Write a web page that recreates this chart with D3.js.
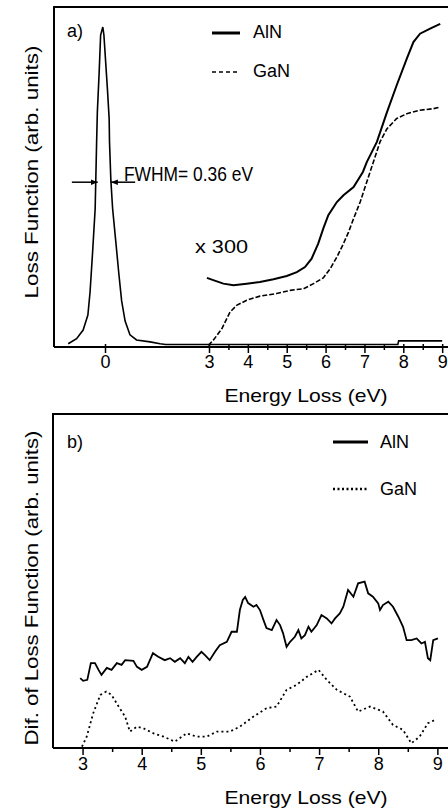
<!DOCTYPE html>
<html><head><meta charset="utf-8">
<script src="https://cdn.jsdelivr.net/npm/d3@7"></script>
<style>
body{margin:0;background:#fff}
svg{display:block}
text{font-family:"Liberation Sans",Arial,Helvetica,sans-serif;fill:#000}
</style>
</head><body>
<svg id="c" width="448" height="810"></svg>
<script>
// ---------- DATA (energy in eV, intensity in arb. units) ----------
// Panel a: zero-loss peak
const peakE = [-1.01,-0.78,-0.60,-0.47,-0.41,-0.34,-0.27,-0.23,-0.21,-0.16,-0.12,-0.06,-0.03,0.07,0.12,0.13,0.17,0.22,0.31,0.40,0.48,0.58,0.72,0.91,1.30,1.59,1.75,7.86,7.88,9.0];
const peakL = [1.0,2.6,5.3,10.0,17.2,29.7,43.2,64.1,73.4,85.9,97.5,100,97.5,80.6,71.3,64.1,51.9,43.2,33.1,22.8,14.4,8.1,3.8,2.2,1.6,1.0,0.8,0.8,1.9,1.9];
// Panel a: AlN (x300)
const alnAE = [2.94,3.11,3.37,3.63,3.97,4.31,4.66,5.00,5.26,5.47,5.64,5.81,5.94,6.07,6.29,6.46,6.72,6.96,7.06,7.32,7.58,7.83,8.09,8.26,8.43,8.69,8.95];
const alnAL = [21.6,20.9,19.8,19.3,19.8,20.3,21.2,22.2,23.4,25.0,27.6,32.3,37.0,41.2,45.3,47.4,50.0,54.7,57.8,64.1,73.4,81.8,90.1,95.3,97.9,99.5,101.0];
// Panel a: GaN (x300)
const ganAE = [2.98,3.11,3.33,3.54,3.71,3.97,4.31,4.74,5.09,5.43,5.69,5.94,6.12,6.29,6.46,6.59,6.72,6.89,7.06,7.23,7.40,7.58,7.83,8.09,8.43,8.78,8.95];
const ganAL = [0.5,2.1,5.7,10.9,13.0,14.6,15.9,16.7,17.7,18.2,19.8,21.6,24.5,28.1,32.3,35.9,40.1,45.3,51.6,57.8,64.1,68.2,71.4,72.9,74.0,74.5,75.0];
// Panel b: difference of loss function, AlN
const alnBE = [2.96,3.01,3.08,3.14,3.21,3.27,3.32,3.41,3.49,3.58,3.66,3.72,3.86,3.92,4.00,4.09,4.19,4.28,4.39,4.48,4.56,4.65,4.73,4.79,4.86,4.93,5.01,5.07,5.15,5.24,5.32,5.44,5.52,5.61,5.66,5.71,5.75,5.80,5.89,5.94,6.00,6.06,6.11,6.20,6.28,6.34,6.39,6.45,6.51,6.59,6.65,6.70,6.76,6.82,6.87,6.96,7.04,7.13,7.21,7.27,7.35,7.41,7.49,7.58,7.66,7.77,7.83,7.91,8.00,8.03,8.08,8.17,8.25,8.34,8.42,8.48,8.56,8.65,8.73,8.79,8.84,8.88,8.93,9.01];
const alnBD = [20.9,20.1,20.4,25.4,25.4,23.4,21.9,24.0,23.4,25.4,24.9,26.3,26.1,24.3,23.4,24.3,28.4,27.3,26.3,26.9,25.8,26.9,25.4,27.3,25.8,27.3,28.8,27.8,26.3,28.8,30.8,31.8,34.8,34.8,41.3,44.3,45.2,43.4,42.3,42.8,41.3,38.3,35.9,35.3,38.3,36.8,34.4,30.3,31.8,33.3,35.3,32.8,33.8,36.3,34.8,36.8,39.8,38.8,37.3,38.8,40.3,42.3,47.3,45.3,49.3,49.8,46.3,45.3,43.3,41.3,42.8,43.8,42.3,39.3,36.3,32.3,32.3,32.8,31.3,31.8,26.9,26.3,32.3,32.8];
// Panel b: GaN
const ganBE = [2.99,3.07,3.18,3.30,3.40,3.49,3.61,3.72,3.80,3.92,4.03,4.20,4.37,4.56,4.76,4.93,5.10,5.27,5.49,5.66,5.89,6.11,6.28,6.45,6.62,6.79,6.99,7.13,7.30,7.52,7.66,7.86,8.08,8.25,8.42,8.56,8.70,8.84,8.96];
const ganBD = [0.4,3.4,10.4,15.9,16.9,15.9,12.4,9.4,4.9,6.4,5.9,4.4,3.4,1.9,4.4,3.4,3.4,4.9,4.9,6.4,9.4,11.9,12.4,17.4,18.9,21.3,23.4,20.4,17.4,15.4,10.9,12.4,10.9,6.9,5.4,1.4,3.4,7.4,8.4];
// Ticks
const majorTicksA = [0,3,4,5,6,7,8,9];
const minorTicksA = [3.5,4.5,5.5,6.5,7.5,8.5];
const majorTicksB = [3,4,5,6,7,8,9];
const minorTicksB = [3.5,4.5,5.5,6.5,7.5,8.5];
// FWHM markers (eV) : [tail, tip]
const fwhmLeft = [-0.91,-0.20];
const fwhmRight = [0.87,0.17];
const fwhmLevel = 51.5;
const seriesNames = ["AlN","GaN"];

// ---------- DRAWING ----------
const svg = d3.select("#c");
const font = '"Liberation Sans",Arial,Helvetica,sans-serif';

svg.append("defs").append("marker")
  .attr("id","arrow").attr("viewBox","0 0 10 10").attr("refX",10).attr("refY",5)
  .attr("markerWidth",7).attr("markerHeight",7).attr("markerUnits","userSpaceOnUse")
  .attr("orient","auto")
  .append("path").attr("d","M0,1L10,5L0,9Z").attr("fill","#000");

const zip = (xs, ys) => xs.map((x,i)=>[x, ys[i]]);

// ===== Panel a =====
const xA = d3.scaleLinear().domain([-1.4,0,3,9.15]).range([54,105,209,448]);
const yA = d3.scaleLinear().domain([0,100]).range([347,27]);
const gA = svg.append("g");
const topA = 7;

gA.append("path").attr("d",`M${xA.range()[0]},${yA(0)}V${topA}H448`)
  .attr("fill","none").attr("stroke","#000").attr("stroke-width",2);
gA.append("line").attr("x1",xA.range()[0]).attr("x2",448).attr("y1",yA(0)).attr("y2",yA(0))
  .attr("stroke","#000").attr("stroke-width",2);

const axA = gA.append("g").attr("transform",`translate(0,${yA(0)})`)
  .call(d3.axisBottom(xA).tickValues(majorTicksA).tickFormat(d3.format("d")).tickSizeInner(6).tickSizeOuter(0).tickPadding(2));
axA.select(".domain").remove();
axA.selectAll(".tick line").attr("stroke","#000").attr("stroke-width",1.5).attr("y1",-3);
axA.selectAll(".tick text").attr("font-size",18).attr("font-family",font);
const axAm = gA.append("g").attr("transform",`translate(0,${yA(0)+3})`)
  .call(d3.axisBottom(xA).tickValues(minorTicksA).tickFormat("").tickSizeInner(-6).tickSizeOuter(0));
axAm.select(".domain").remove();
axAm.selectAll(".tick line").attr("stroke","#000").attr("stroke-width",1.5);

const lineA = d3.line().x(d=>xA(d[0])).y(d=>yA(d[1]));
gA.append("path").datum(zip(peakE,peakL)).attr("d",lineA)
  .attr("fill","none").attr("stroke","#000").attr("stroke-width",1.6);
gA.append("path").datum(zip(alnAE,alnAL)).attr("d",lineA)
  .attr("fill","none").attr("stroke","#000").attr("stroke-width",2);
gA.append("path").datum(zip(ganAE,ganAL)).attr("d",lineA)
  .attr("fill","none").attr("stroke","#000").attr("stroke-width",1.6).attr("stroke-dasharray","5,2");

[fwhmLeft, fwhmRight].forEach(a=>{
  gA.append("line").attr("x1",xA(a[0])).attr("x2",xA(a[1]))
    .attr("y1",yA(fwhmLevel)).attr("y2",yA(fwhmLevel))
    .attr("stroke","#000").attr("stroke-width",1.5).attr("marker-end","url(#arrow)");
});
gA.append("text").attr("x",124).attr("y",yA(fwhmLevel)-1).attr("font-size",21)
  .attr("textLength",129).attr("lengthAdjust","spacingAndGlyphs").text("FWHM= 0.36 eV");
gA.append("text").attr("x",195).attr("y",253).attr("font-size",18)
  .attr("textLength",53).attr("lengthAdjust","spacingAndGlyphs").text("x 300");
gA.append("text").attr("x",67).attr("y",37).attr("font-size",18).text("a)");

gA.append("line").attr("x1",212).attr("x2",240).attr("y1",33).attr("y2",33)
  .attr("stroke","#000").attr("stroke-width",3);
gA.append("line").attr("x1",212).attr("x2",240).attr("y1",72).attr("y2",72)
  .attr("stroke","#000").attr("stroke-width",1.6).attr("stroke-dasharray","4,3");
gA.append("text").attr("x",253).attr("y",38).attr("font-size",18).text(seriesNames[0]);
gA.append("text").attr("x",253).attr("y",77).attr("font-size",18).text(seriesNames[1]);

gA.append("text").attr("x",306).attr("y",402).attr("font-size",19).attr("text-anchor","middle")
  .attr("textLength",163).attr("lengthAdjust","spacingAndGlyphs").text("Energy Loss (eV)");
gA.append("text").attr("transform","translate(38,172) rotate(-90)").attr("font-size",19)
  .attr("text-anchor","middle").attr("textLength",253).attr("lengthAdjust","spacingAndGlyphs")
  .text("Loss Function (arb. units)");

// ===== Panel b =====
const xB = d3.scaleLinear().domain([2.5,9.18]).range([53,448]);
const yB = d3.scaleLinear().domain([0,100]).range([748,414]);
const gB = svg.append("g");
gB.append("path").attr("d",`M${xB.range()[0]},${yB(0)}V${yB(100)}H448`)
  .attr("fill","none").attr("stroke","#000").attr("stroke-width",2);
gB.append("line").attr("x1",xB.range()[0]).attr("x2",448).attr("y1",yB(0)).attr("y2",yB(0))
  .attr("stroke","#000").attr("stroke-width",2);
const axB = gB.append("g").attr("transform",`translate(0,${yB(0)})`)
  .call(d3.axisBottom(xB).tickValues(majorTicksB).tickFormat(d3.format("d")).tickSizeInner(7).tickSizeOuter(0).tickPadding(2));
axB.select(".domain").remove();
axB.selectAll(".tick line").attr("stroke","#000").attr("stroke-width",1.5);
axB.selectAll(".tick text").attr("font-size",18).attr("font-family",font);
const axBm = gB.append("g").attr("transform",`translate(0,${yB(0)})`)
  .call(d3.axisBottom(xB).tickValues(minorTicksB).tickFormat("").tickSizeInner(4).tickSizeOuter(0));
axBm.select(".domain").remove();
axBm.selectAll(".tick line").attr("stroke","#000").attr("stroke-width",1.5);

const lineB = d3.line().x(d=>xB(d[0])).y(d=>yB(d[1]));
gB.append("path").datum(zip(alnBE,alnBD)).attr("d",lineB)
  .attr("fill","none").attr("stroke","#000").attr("stroke-width",1.8);
gB.append("path").datum(zip(ganBE,ganBD)).attr("d",lineB)
  .attr("fill","none").attr("stroke","#000").attr("stroke-width",1.8).attr("stroke-dasharray","2,3");

gB.append("text").attr("x",67).attr("y",448).attr("font-size",18).text("b)");
gB.append("line").attr("x1",333).attr("x2",368).attr("y1",442).attr("y2",442)
  .attr("stroke","#000").attr("stroke-width",3);
gB.append("line").attr("x1",333).attr("x2",368).attr("y1",489).attr("y2",489)
  .attr("stroke","#000").attr("stroke-width",2.5).attr("stroke-dasharray","2,2.5");
gB.append("text").attr("x",380).attr("y",448).attr("font-size",18).text(seriesNames[0]);
gB.append("text").attr("x",380).attr("y",495).attr("font-size",18).text(seriesNames[1]);

gB.append("text").attr("x",306).attr("y",804).attr("font-size",19).attr("text-anchor","middle")
  .attr("textLength",163).attr("lengthAdjust","spacingAndGlyphs").text("Energy Loss (eV)");
gB.append("text").attr("transform","translate(38,588) rotate(-90)").attr("font-size",19)
  .attr("text-anchor","middle").attr("textLength",315).attr("lengthAdjust","spacingAndGlyphs")
  .text("Dif. of Loss Function (arb. units)");
</script>
</body></html>
